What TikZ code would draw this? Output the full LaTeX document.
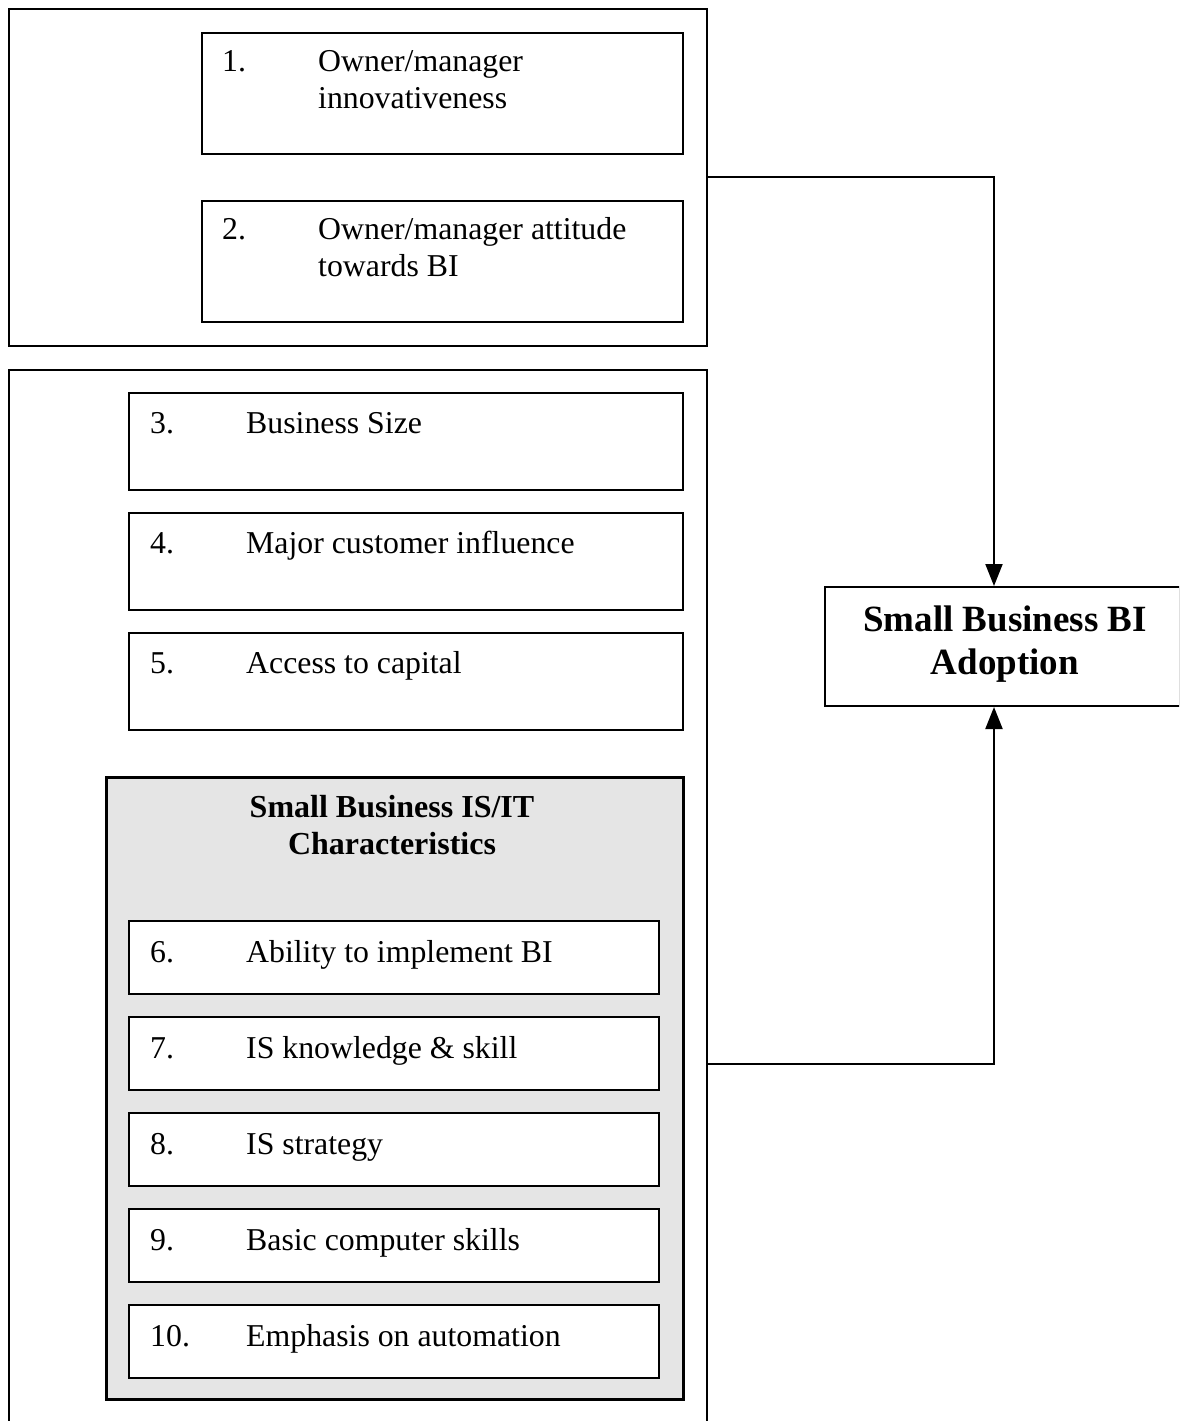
\documentclass[tikz,border=0pt]{standalone}
\usepackage{fontspec}
\setmainfont{Liberation Serif}
\usetikzlibrary{arrows.meta}
\begin{document}
\begin{tikzpicture}[x=1pt,y=-1pt,
  box/.style={draw=black,line width=2pt,minimum width=#1,inner sep=0pt,anchor=north west},
  lbl/.style={anchor=base west,inner sep=0pt,font=\fontsize{31.8}{37}\selectfont},
  ttl/.style={anchor=base,inner sep=0pt,font=\bfseries\fontsize{32}{37}\selectfont},
  big/.style={anchor=base,inner sep=0pt,font=\bfseries\fontsize{37}{43}\selectfont},
  conn/.style={line width=2pt,-{Triangle[length=22pt,width=17pt]}}]
\useasboundingbox (0,0) rectangle (1179,1421);
\clip (0,0) rectangle (1179,1421);
% outer groups
\node[box=698pt,minimum height=337pt] (g1) at (8,8) {};
\node[box=698pt,minimum height=1100pt] (g2) at (8,369) {};
% group 1 items
\node[box=481pt,minimum height=121pt] (b1) at (201,32) {};
\node[lbl] (n1) at (222,71) {1.};
\node[lbl] (t1) at (318,71) {Owner/manager};
\node[lbl] (t1b) at (318,108) {innovativeness};
\node[box=481pt,minimum height=121pt] (b2) at (201,200) {};
\node[lbl] (n2) at (222,239) {2.};
\node[lbl] (t2) at (318,239) {Owner/manager attitude};
\node[lbl] (t2b) at (318,276) {towards BI};
% group 2 items
\node[box=554pt,minimum height=97pt] (b3) at (128,392) {};
\node[lbl] (n3) at (150,433) {3.};
\node[lbl] (t3) at (246,433) {Business Size};
\node[box=554pt,minimum height=97pt] (b4) at (128,512) {};
\node[lbl] (n4) at (150,553) {4.};
\node[lbl] (t4) at (246,553) {Major customer influence};
\node[box=554pt,minimum height=97pt] (b5) at (128,632) {};
\node[lbl] (n5) at (150,673) {5.};
\node[lbl] (t5) at (246,673) {Access to capital};
% grey IS/IT box
\node[box=577pt,minimum height=622pt,fill=black!10,line width=2.6pt] (gr) at (105,776) {};
\node[ttl] (gt1) at (392,817) {Small Business IS/IT};
\node[ttl] (gt2) at (392,854) {Characteristics};
\foreach \i/\y/\t in {6/920/Ability to implement BI,7/1016/IS knowledge \& skill,8/1112/IS strategy,9/1208/Basic computer skills,10/1304/Emphasis on automation}{
  \node[box=530pt,minimum height=73pt,fill=white] (b\i) at (128,\y) {};
  \node[lbl] (n\i) at (150,\y+42) {\i.};
  \node[lbl] (t\i) at (246,\y+42) {\t};
}
% target
\node[box=355pt,minimum height=119pt] (tg) at (824,586) {};
\node[big] (tt1) at (1005,631) {Small Business BI};
\node[big] (tt2) at (1005,674) {Adoption};
% connectors
\coordinate (c1) at (706,177);
\coordinate (c2) at (706,1064);
\draw[conn] (c1) -| ([xshift=-8.5pt]tg.north);
\draw[conn] (c2) -| ([xshift=-8.5pt]tg.south);
\end{tikzpicture}
\end{document}
